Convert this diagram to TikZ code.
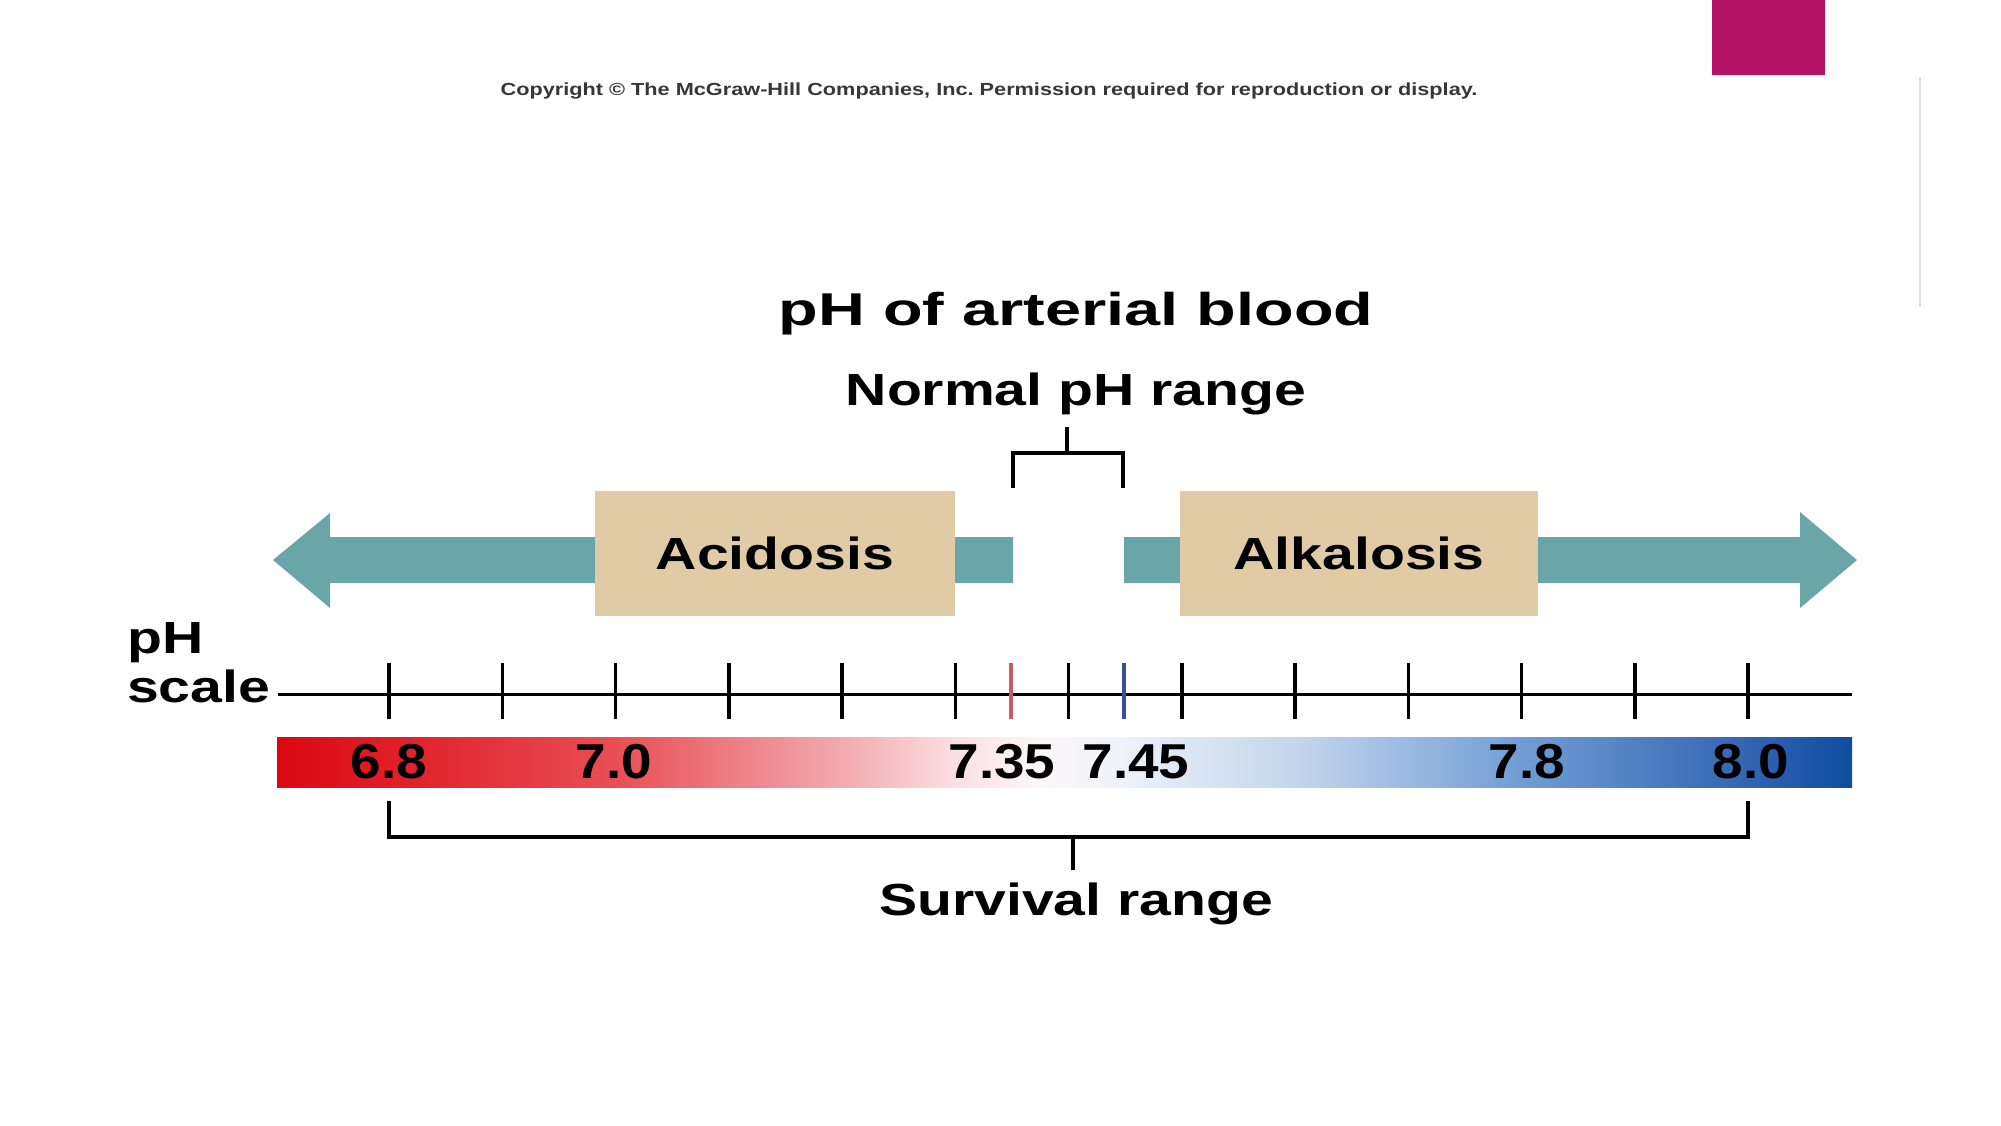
\documentclass[tikz,border=0pt]{standalone}
\usepackage{fontspec}
\setmainfont{Liberation Sans}
\newfontfamily\headfont{Liberation Sans}[FakeStretch=1.41]
\newfontfamily\labfont{Liberation Sans}[FakeStretch=1.27]
\newfontfamily\numfont{Liberation Sans}[FakeStretch=1.12]
\newfontfamily\notefont{Liberation Sans}[FakeStretch=1.24]
\usetikzlibrary{positioning}
\frenchspacing
\definecolor{arrowteal}{RGB}{106,166,168}
\definecolor{boxtan}{RGB}{225,203,166}
\definecolor{slidemagenta}{RGB}{180,18,100}
\definecolor{notegray}{RGB}{55,55,55}
\definecolor{lowtick}{RGB}{200,90,100}
\definecolor{hightick}{RGB}{60,80,150}
\definecolor{phA}{RGB}{218,8,18}
\definecolor{phB}{RGB}{224,30,38}
\definecolor{phC}{RGB}{232,78,84}
\definecolor{phD}{RGB}{242,170,175}
\definecolor{phE}{RGB}{251,224,226}
\definecolor{phF}{RGB}{252,247,248}
\definecolor{phG}{RGB}{240,244,250}
\definecolor{phH}{RGB}{222,232,244}
\definecolor{phI}{RGB}{196,214,236}
\definecolor{phJ}{RGB}{112,156,212}
\definecolor{phK}{RGB}{50,100,178}
\definecolor{phL}{RGB}{16,76,160}
\pgfdeclarehorizontalshading{phgrad}{100bp}{color(0bp)=(phA); color(25bp)=(phA); color(28.56bp)=(phB); color(35.7bp)=(phC); color(42.94bp)=(phD); color(46.59bp)=(phE); color(49.22bp)=(phF); color(51.5bp)=(phG); color(53.67bp)=(phH); color(57.35bp)=(phI); color(64.59bp)=(phJ); color(71.7bp)=(phK); color(75bp)=(phL); color(100bp)=(phL)}

\begin{document}
\begin{tikzpicture}[x=1pt, y=-1pt, every node/.style={inner sep=0pt},
 head/.style={font=\headfont\bfseries\fontsize{46}{50}\selectfont, anchor=base},
 lab/.style={font=\labfont\bfseries\fontsize{45}{50}\selectfont, anchor=base},
 num/.style={font=\numfont\bfseries\fontsize{49}{52}\selectfont, anchor=base},
 box/.style={fill=boxtan, minimum width=360pt, minimum height=125pt, font=\labfont\bfseries\fontsize{45}{50}\selectfont},
 shaft/.style={fill=arrowteal},
 brace/.style={line width=4pt},
 tick/.style={line width=3.5pt}]
\fill[white] (0,0) rectangle (2001,1125);
\useasboundingbox (0,0) rectangle (2001,1125);
\fill[slidemagenta] (1712,0) rectangle (1825,75);
\draw[black!12, line width=2pt] (1920,77) -- (1920,307);
\node[font=\notefont\bfseries\fontsize{17.5}{20}\selectfont, text=notegray, anchor=base] (note) at (989,95) {Copyright \textcopyright\ The McGraw-Hill Companies, Inc. Permission required for reproduction or display.};
\node[head] (title) at (1076,325) {pH of arterial blood};
\node[lab] (normal) at (1076,405) {Normal pH range};
\fill[shaft] (1013,537) -- (330,537) -- (330,513) -- (273,560) -- (330,608) -- (330,583) -- (1013,583) -- cycle;
\fill[shaft] (1124,537) -- (1800,537) -- (1800,512) -- (1857,560) -- (1800,608) -- (1800,583) -- (1124,583) -- cycle;
\node[box] (acid) at (775,553.5) {Acidosis};
\node[box, minimum width=358pt] (alk) at (1359,553.5) {Alkalosis};
\node[lab, anchor=base west] (phword) at (127,653) {pH};
\node[lab, anchor=base west] (scale) at (127,702) {scale};
\coordinate (axstart) at (278,694);
\coordinate (axend) at (1852,694);
\shade[shading=phgrad] (277,737) rectangle (1852,787);
\draw[line width=3pt] (axstart) -- (axend);
\foreach \v in {0,...,12} \draw[tick] (389+113.25*\v,663) -- ++(0,56);
\draw[tick, lowtick] (1011,663) -- ++(0,56);
\draw[tick, hightick] (1124,663) -- ++(0,56);
\node[num] (p68) at (389,778) {6.8};
\node[num] (p70) at (614,778) {7.0};
\node[num] (p735) at (1002,778) {7.35};
\node[num] (p745) at (1136,778) {7.45};
\node[num] (p78) at (1527,778) {7.8};
\node[num] (p80) at (1751,778) {8.0};
\node[lab] (surv) at (1076,915) {Survival range};
\coordinate (nl) at (1013,488);
\coordinate (nr) at (1123,488);
\coordinate (ntop) at (1067,427);
\coordinate (sl) at (389,801);
\coordinate (sr) at (1748,801);
\coordinate (sbot) at (1073,870);
\draw[brace] (nl) -- ++(0,-35) -| (nr);
\draw[brace] (ntop) -- ++(0,26);
\draw[brace] (sl) -- ++(0,36) -| (sr);
\draw[brace] (sbot) -- ++(0,-33);
\end{tikzpicture}
\end{document}
